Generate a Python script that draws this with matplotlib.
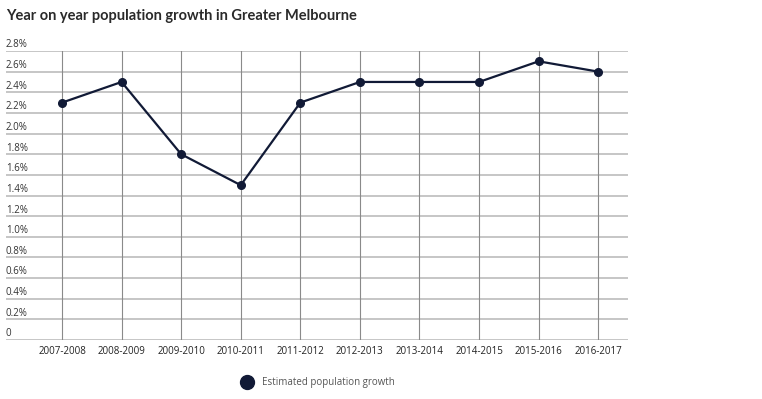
import matplotlib
matplotlib.use("Agg")
import matplotlib.pyplot as plt
import matplotlib.transforms as mtransforms
from matplotlib.lines import Line2D

categories = ["2007-2008", "2008-2009", "2009-2010", "2010-2011", "2011-2012",
              "2012-2013", "2013-2014", "2014-2015", "2015-2016", "2016-2017"]
growth = [2.3, 2.5, 1.8, 1.5, 2.3, 2.5, 2.5, 2.5, 2.7, 2.6]
y_ticks = [0, 0.2, 0.4, 0.6, 0.8, 1.0, 1.2, 1.4, 1.6, 1.8, 2.0, 2.2, 2.4, 2.6, 2.8]
y_labels = ["0", "0.2%", "0.4%", "0.6%", "0.8%", "1.0%", "1.2%", "1.4%", "1.6%",
            "1.8%", "2.0%", "2.2%", "2.4%", "2.6%", "2.8%"]
series_name = "Estimated population growth"
title = "Year on year population growth in Greater Melbourne"

plt.rcParams['font.family'] = ['Open Sans', 'DejaVu Sans']

W, H = 762, 399
fig = plt.figure(figsize=(W / 100, H / 100), dpi=100)
left, right, top, bottom = 6, 628, 51, 340
ax = fig.add_axes([left / W, 1 - bottom / H, (right - left) / W, (bottom - top) / H])

x = list(range(len(categories)))
line_color = "#111a36"

# grid
for yv in y_ticks:
    ax.axhline(yv, color="#c6c6c6", lw=1.4, zorder=1)
for xv in x:
    ax.axvline(xv, color="#8a8a8a", lw=0.8, zorder=1)

ax.plot(x, growth, color=line_color, lw=1.6, marker="o", markersize=5.5, zorder=3)

ax.set_xlim(-0.94, 9.5)
ax.set_ylim(0, 2.8)
for s in ax.spines.values():
    s.set_visible(False)

ax.set_xticks(x)
ax.set_xticklabels(categories, fontsize=7, color="#222222")
ax.tick_params(axis="x", length=0, pad=4)
ax.set_yticks([])

trans = mtransforms.offset_copy(ax.get_yaxis_transform(), fig=fig, x=0, y=2.6, units="points")
for yv, lab in zip(y_ticks, y_labels):
    ax.text(0, yv, lab, transform=trans, ha="left", va="baseline", fontsize=7, color="#333333")

fig.text(6 / W, 1 - 16 / H, title, fontsize=10.5, fontweight="bold", color="#2a2a2a",
         ha="left", va="center", family=["Lato", "DejaVu Sans"])

handle = Line2D([], [], color=line_color, marker="o", linestyle="none", markersize=10)
fig.legend([handle], [series_name], loc="center", bbox_to_anchor=(316 / W, 1 - 383 / H),
           frameon=False, fontsize=7, labelcolor="#555555", handletextpad=0.6)

fig.savefig("out.png", dpi=100)
